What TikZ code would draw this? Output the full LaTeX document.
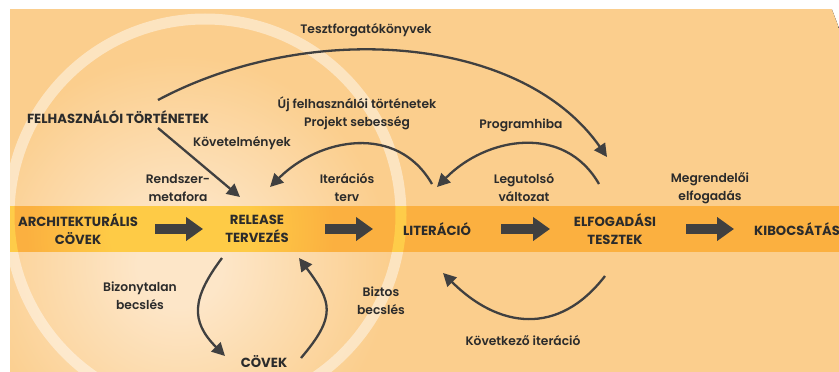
\documentclass[tikz,border=0pt]{standalone}
\usepackage{fontspec}
\setmainfont{Poppins}[UprightFont=* SemiBold, BoldFont=* Bold]
\usetikzlibrary{arrows.meta,calc}
\definecolor{peach}{HTML}{FBCE8D}
\definecolor{bandor}{HTML}{FBB040}
\definecolor{bandyl}{HTML}{FECB46}
\definecolor{glow}{HTML}{FDE6C8}
\definecolor{ringyl}{HTML}{FFD04A}
\definecolor{ink}{HTML}{2B2B2B}
\definecolor{arr}{HTML}{404040}
\pgfdeclareradialshading{bgglow}{\pgfpointorigin}{color(0bp)=(glow); color(1.5bp)=(glow); color(7.5bp)=(peach); color(50bp)=(peach)}
\pgfdeclareradialshading{bandglow}{\pgfpointorigin}{color(0bp)=(bandyl); color(2.5bp)=(bandyl); color(5.5bp)=(bandor); color(50bp)=(bandor)}
\begin{document}
\begin{tikzpicture}[x=1pt,y=-1pt,
 lbl/.style={font=\fontsize{12.3}{18}\selectfont, text=ink, align=center, inner sep=1pt},
 capbox/.style={font=\fontsize{13.2}{18}\selectfont\bfseries, text=ink, align=center, inner sep=1pt},
 flow/.style={draw=arr, line width=2.3pt, -{Triangle[length=13pt,width=13pt]}},
 block/.style={draw=arr, line width=10pt, -{Triangle[length=17pt,width=23pt]}}]
\useasboundingbox (0,0) rectangle (839,372);
\fill[white] (0,0) rectangle (839,372);
\begin{scope}
  \clip (10,9) rectangle (839,372);
  \fill[shading=bgglow] (180,265) circle (700);
  \draw[white, opacity=0.45, line width=11pt] (205,215) circle (196);
  \begin{scope}
    \clip (10,206) rectangle (839,251);
    \fill[shading=bandglow] (180,229) circle (700);
    \draw[ringyl, opacity=0.9, line width=11pt] (205,215) circle (196);
  \end{scope}
\end{scope}

% labels
\node[lbl] (tf) at (366,30) {Tesztforgatókönyvek};
\node[capbox] (fel) at (118,117) {FELHASZNÁLÓI TÖRTÉNETEK};
\node[lbl] (kov) at (242,143) {Követelmények};
\node[lbl] (rm) at (178,188) {Rendszer-\\metafora};
\node[lbl] (uj) at (357,113) {Új felhasználói történetek\\Projekt sebesség};
\node[lbl] (it) at (347,188) {Iterációs\\terv};
\node[lbl] (ph) at (521,125) {Programhiba};
\node[lbl] (lv) at (524,188) {Legutolsó\\változat};
\node[lbl] (me) at (710,188) {Megrendelői\\elfogadás};
% band
\node[capbox] (arch) at (78,229) {ARCHITEKTURÁLIS\\CÖVEK};
\node[capbox] (rel) at (257,229) {RELEASE\\TERVEZÉS};
\node[capbox] (lit) at (437,229) {LITERÁCIÓ};
\node[capbox] (elf) at (615,229) {ELFOGADÁSI\\TESZTEK};
\node[capbox, anchor=west] (kib) at (753,229) {KIBOCSÁTÁS};
% lower
\node[lbl] (bb) at (140,296) {Bizonytalan\\becslés};
\node[capbox] (cov) at (264,362) {CÖVEK};
\node[lbl] (bz) at (381,301) {Biztos\\becslés};
\node[lbl] (ki) at (523,341) {Következő iteráció};

% block arrows
\draw[block] ($(arch)+(77,0)$) -- ($(rel)+(-54,0)$);
\draw[block] ($(rel)+(68,0)$) -- ($(lit)+(-64,0)$);
\draw[block] ($(lit)+(64,0)$) -- ($(elf)+(-65,0)$);
\draw[block] ($(elf)+(71,0)$) -- ($(kib.west)+(-19,0)$);

% flows
\draw[flow] ($(fel)+(40,-17)$) .. controls (308,20) and (521,34) .. ($(elf)+(-8,-72)$);
\draw[flow] ($(fel)+(40,11)$) -- ($(rel)+(-17,-32)$);
\draw[flow] ($(lit)+(-5,-45)$) .. controls (397,123) and (319,138) .. ($(rel)+(13,-42)$);
\draw[flow] ($(elf)+(-16,-45)$) .. controls (564,123) and (486,137) .. ($(lit)+(0,-42)$);
\draw[flow] ($(rel)+(-35,29)$) .. controls (192,298) and (190,321) .. ($(cov)+(-39,-6)$);
\draw[flow] ($(cov)+(37,-4)$) .. controls (336.75,316) and (332,302) .. ($(rel)+(42,29)$);
\draw[flow] ($(elf)+(-10,47)$) .. controls (558,337) and (498,328) .. ($(lit)+(6,44)$);
\end{tikzpicture}
\end{document}
